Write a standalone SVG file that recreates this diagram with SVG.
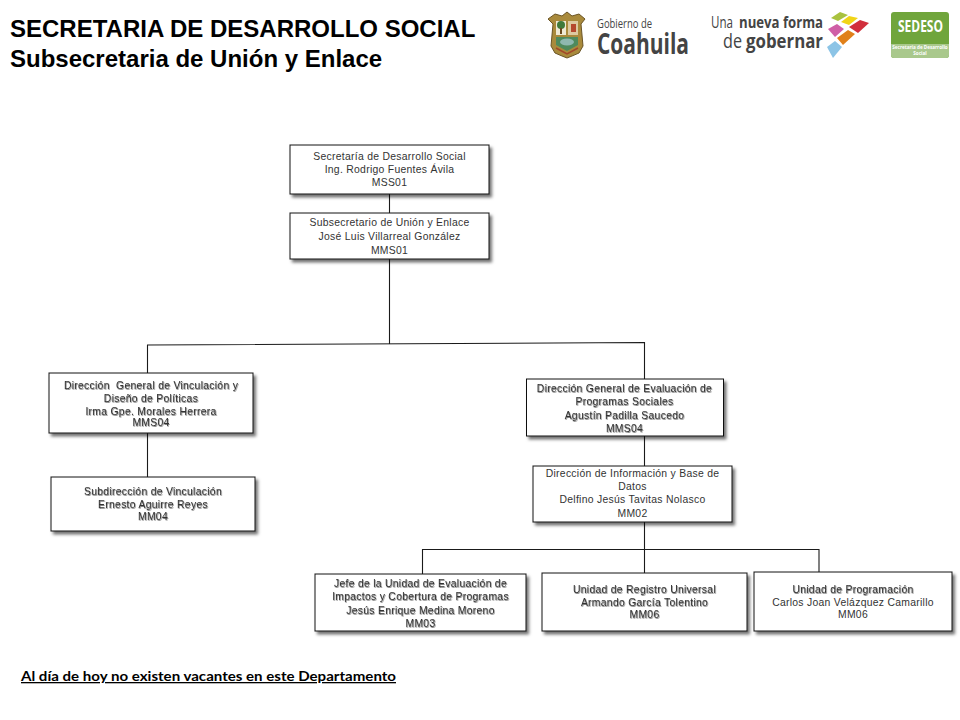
<svg xmlns="http://www.w3.org/2000/svg" width="960" height="720" viewBox="0 0 960 720">
<defs>
<filter id="sh" x="-5%" y="-10%" width="112%" height="125%"><feDropShadow dx="2.5" dy="3" stdDeviation="1.5" flood-color="#000" flood-opacity="0.55"/></filter>
<filter id="ts" x="-5%" y="-30%" width="110%" height="170%"><feDropShadow dx="0.6" dy="0.9" stdDeviation="0.6" flood-color="#000" flood-opacity="0.55"/></filter>
</defs>
<style>
.box{fill:#fff;stroke:#111;stroke-width:1;filter:url(#sh)}
.t{font-family:"Liberation Sans",Arial,sans-serif;font-size:10.4px;letter-spacing:.28px;fill:#333;text-anchor:middle}
.s{filter:url(#ts)}
.conn{fill:none;stroke:#1a1a1a;stroke-width:1.1}
.head{font-family:"Liberation Sans",Arial,sans-serif;font-weight:bold;font-size:24px;fill:#000}
.logo{font-family:"Open Sans",sans-serif;fill:#444}
</style>
<rect width="960" height="720" fill="#fff"/>
<g id="title">
<text class="head" x="10" y="37">SECRETARIA DE DESARROLLO SOCIAL</text>
<text class="head" x="10" y="67">Subsecretaria de Unión y Enlace</text>
</g>
<g id="logo-coahuila">
<path d="M548 19L555 14L562 16L567 12L572 16L579 14L585 19L581 24L583 46L579 53L572 56L567 58L562 56L555 53L551 46L553 24Z" fill="#a98a3c" stroke="#6b5526" stroke-width="1"/>
<rect x="556" y="21" width="10" height="14" fill="#efe9d4"/>
<circle cx="561" cy="25" r="4" fill="#3f7a3a"/>
<rect x="560" y="28" width="2" height="6" fill="#6b4a20"/>
<rect x="568" y="21" width="10" height="14" fill="#dcc9a0"/>
<rect x="571" y="24" width="5" height="8" fill="#b5482e"/>
<path d="M556 37H578V45L567 51L556 45Z" fill="#4f8a5c"/>
<ellipse cx="567" cy="42" rx="7" ry="3.5" fill="#8fb8b0"/>
<path d="M556 48L567 54L578 48" fill="none" stroke="#a3472a" stroke-width="1.5"/>
<text class="logo" x="597" y="28" font-size="13" textLength="55" lengthAdjust="spacingAndGlyphs">Gobierno de</text>
<text class="logo" x="597" y="54" font-size="28" font-weight="bold" textLength="92" lengthAdjust="spacingAndGlyphs">Coahuila</text>
</g>
<g id="logo-gobernar">
<text class="logo" x="711" y="28" font-size="16" textLength="22" lengthAdjust="spacingAndGlyphs">Una</text>
<text class="logo" x="739" y="28" font-size="16" font-weight="bold" textLength="84" lengthAdjust="spacingAndGlyphs">nueva forma</text>
<text class="logo" x="723" y="48" font-size="20" textLength="19" lengthAdjust="spacingAndGlyphs">de</text>
<text class="logo" x="746" y="48" font-size="20" font-weight="bold" textLength="77" lengthAdjust="spacingAndGlyphs">gobernar</text>
<polygon points="831,18 840,12 848,15 838,21" fill="#a9c23f"/>
<polygon points="841,22 849,16 858,18 849,25" fill="#f1d517"/>
<polygon points="849,27 860,20 869,23 858,33" fill="#d12f3c"/>
<polygon points="828,29 837,24 844,29 835,37" fill="#cf5fa6"/>
<polygon points="837,38 848,30 855,34 843,45" fill="#e0801a"/>
<polygon points="827,47 835,41 842,47 833,58" fill="#8cc4e6"/>
</g>
<g id="logo-sedeso">
<rect x="891" y="12" width="58" height="46" rx="3" fill="#70a53c"/>
<path d="M891 44H949V55a3 3 0 0 1-3 3H894a3 3 0 0 1-3-3Z" fill="#a9c88c"/>
<text x="920.500" y="32" font-family="'Open Sans',sans-serif" font-weight="bold" font-size="16" fill="#fff" text-anchor="middle" textLength="45" lengthAdjust="spacingAndGlyphs">SEDESO</text>
<text x="920" y="49" font-family="'Open Sans',sans-serif" font-weight="bold" font-size="4.6" fill="#fff" text-anchor="middle">Secretaría de Desarrollo</text>
<text x="920" y="54.500" font-family="'Open Sans',sans-serif" font-weight="bold" font-size="4.6" fill="#fff" text-anchor="middle">Social</text>
</g>
<g id="connectors">
<path class="conn" d="M389.500 194V213M389.500 259V344"/>
<path class="conn" d="M147.500 373V345L644.500 342.500V379"/>
<path class="conn" d="M147.500 433V477"/>
<path class="conn" d="M644.500 436V466M644.500 522V573"/>
<path class="conn" d="M422.500 574V549.500H819V572"/>
</g>
<g id="n1"><rect class="box" x="290" y="145" width="199" height="49"/>
<text class="t" x="389.500" y="160">Secretaría de Desarrollo Social</text>
<text class="t" x="389.500" y="173">Ing. Rodrigo Fuentes Ávila</text>
<text class="t" x="389.500" y="186">MSS01</text></g>
<g id="n2"><rect class="box" x="290" y="213" width="199" height="46"/>
<text class="t" x="389.500" y="226">Subsecretario de Unión y Enlace</text>
<text class="t" x="389.500" y="240">José Luis Villarreal González</text>
<text class="t" x="389.500" y="254">MMS01</text></g>
<g id="n3"><rect class="box" x="49" y="373" width="204" height="60"/>
<g class="s"><text class="t" x="151" y="389" xml:space="preserve">Dirección  General de Vinculación y</text>
<text class="t" x="151" y="402">Diseño de Políticas</text>
<text class="t" x="151" y="415">Irma Gpe. Morales Herrera</text>
<text class="t" x="151" y="426">MMS04</text></g></g>
<g id="n4"><rect class="box" x="51" y="477" width="204" height="54"/>
<g class="s"><text class="t" x="153" y="495">Subdirección de Vinculación</text>
<text class="t" x="153" y="508">Ernesto Aguirre Reyes</text>
<text class="t" x="153" y="520">MM04</text></g></g>
<g id="n5"><rect class="box" x="526.500" y="379" width="197" height="57"/>
<g class="s"><text class="t" x="624.500" y="392">Dirección General de Evaluación de</text>
<text class="t" x="624.500" y="405">Programas Sociales</text>
<text class="t" x="624.500" y="419">Agustín Padilla Saucedo</text>
<text class="t" x="624.500" y="432">MMS04</text></g></g>
<g id="n6"><rect class="box" x="533" y="466" width="199" height="56"/>
<text class="t" x="632.500" y="477">Dirección de Información y Base de</text>
<text class="t" x="632.500" y="490">Datos</text>
<text class="t" x="632.500" y="503">Delfino Jesús Tavitas Nolasco</text>
<text class="t" x="632.500" y="517">MM02</text></g>
<g id="n7"><rect class="box" x="315" y="574" width="211" height="57"/>
<g class="s"><text class="t" x="420.500" y="587">Jefe de la Unidad de Evaluación de</text>
<text class="t" x="420.500" y="600">Impactos y Cobertura de Programas</text>
<text class="t" x="420.500" y="614">Jesús Enrique Medina Moreno</text>
<text class="t" x="420.500" y="627">MM03</text></g></g>
<g id="n8"><rect class="box" x="542" y="573" width="205" height="58"/>
<g class="s"><text class="t" x="644.500" y="593">Unidad de Registro Universal</text>
<text class="t" x="644.500" y="606">Armando García Tolentino</text>
<text class="t" x="644.500" y="618">MM06</text></g></g>
<g id="n9"><rect class="box" x="754" y="572" width="198" height="59"/>
<text class="t s" x="853" y="593">Unidad de Programación</text>
<text class="t" x="853" y="606">Carlos Joan Velázquez Camarillo</text>
<text class="t" x="853" y="618">MM06</text></g>
<g id="footer">
<text x="21" y="681" font-family="Lato,sans-serif" font-weight="bold" font-size="13" fill="#000" text-decoration="underline" textLength="375" lengthAdjust="spacingAndGlyphs">Al día de hoy no existen vacantes en este Departamento</text>
</g>
</svg>
